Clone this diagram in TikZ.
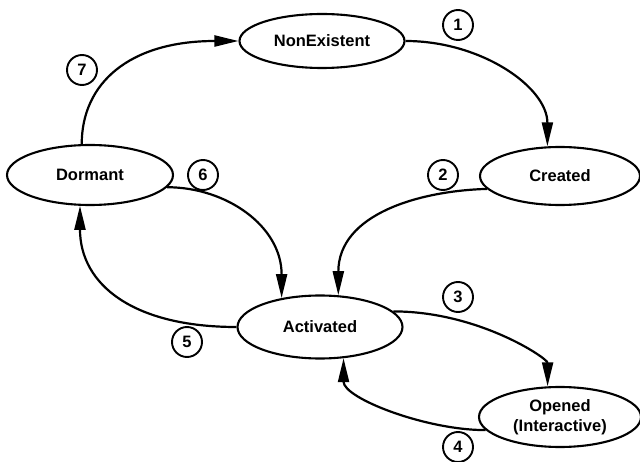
\documentclass[tikz,border=0pt]{standalone}
\usepackage{fontspec}
\setmainfont{Liberation Sans}
\usetikzlibrary{shapes.geometric,arrows.meta}
\begin{document}
\begin{tikzpicture}[x=1pt,y=-1pt,
  state/.style={draw, line width=2.1pt, ellipse, inner sep=0pt, align=center,
    font=\fontsize{16.5}{20}\selectfont\bfseries},
  num/.style={draw, circle, line width=1.9pt, minimum size=30pt, inner sep=0pt,
    font=\fontsize{16.5}{18}\selectfont\bfseries},
  trans/.style={line width=2.2pt, -{Triangle[length=24pt,width=11pt]}}]
\useasboundingbox (0,0) rectangle (640,462);
\node[state, minimum width=165pt, minimum height=54pt] (non) at (322,41) {NonExistent};
\node[state, minimum width=160pt, minimum height=58pt] (cre) at (560,176) {Created};
\node[state, minimum width=166pt, minimum height=60pt] (dor) at (90,175) {Dormant};
\node[state, minimum width=165pt, minimum height=63pt] (act) at (320,327) {Activated};
\node[state, minimum width=162pt, minimum height=60pt] (ope) at (560,417) {Opened\\(Interactive)};

\node[num] (n1) at (458,25) {1};
\node[num] (n2) at (443,175) {2};
\node[num] (n3) at (458,297) {3};
\node[num] (n4) at (458,447) {4};
\node[num] (n5) at (187,342) {5};
\node[num] (n6) at (203,175) {6};
\node[num] (n7) at (82,70) {7};

\draw[trans] (dor.105) .. controls +(0,-61) and +(-109,0) .. (non.west);
\draw[trans] (non.east) .. controls +(76,0) and +(0,-59) .. (cre.113);
\draw[trans] (cre.190) .. controls +(-68,2) and +(0,-81) .. (act.60);
\draw[trans] (dor.-9) .. controls +(59,0) and +(0,-72) .. (act.143);
\draw[trans] (act.west) .. controls +(-103,0) and +(0,79) .. (dor.252);
\draw[trans] (act.12) .. controls +(85,0) and +(0,-28) .. (ope.112);
\draw[trans] (ope.190) .. controls +(-60,0) and +(0,40) .. (act.-53);
\end{tikzpicture}
\end{document}
